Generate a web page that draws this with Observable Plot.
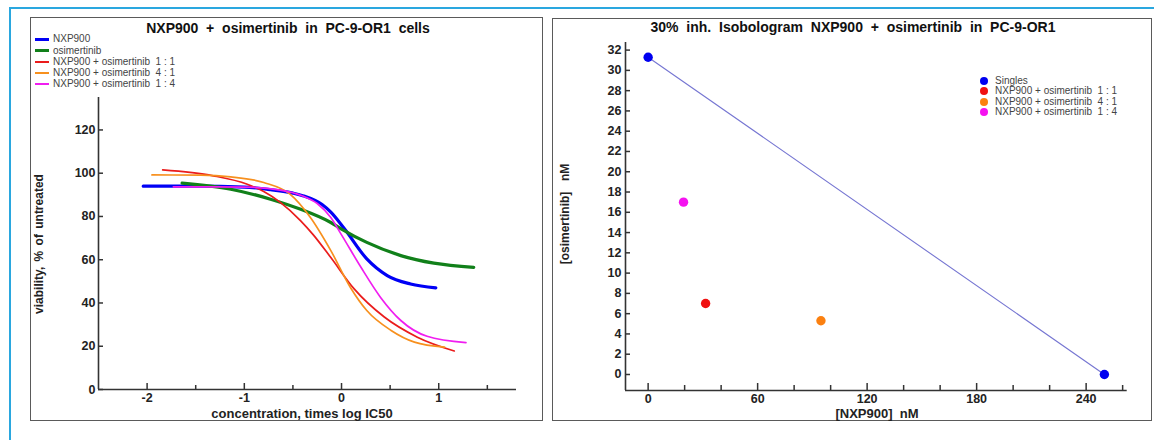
<!DOCTYPE html>
<html><head><meta charset="utf-8">
<script src="https://cdn.jsdelivr.net/npm/d3@7"></script>
<script src="https://cdn.jsdelivr.net/npm/@observablehq/plot@0.6"></script>
<style>
body{margin:0;background:#fff;}
#root{position:relative;width:1154px;height:440px;overflow:hidden;font-family:"Liberation Sans",Arial,sans-serif;color:#222;}
.abs{position:absolute;}
.frame{position:absolute;box-sizing:border-box;border:1.5px solid #5a5a5a;}
.title{position:absolute;font-weight:bold;font-size:14px;white-space:pre;transform:translate(-50%,-50%);color:#111;}
.alabel{position:absolute;font-weight:bold;font-size:13px;white-space:pre;transform:translate(-50%,-50%);color:#222;}
.vlabel{position:absolute;font-weight:bold;font-size:12px;white-space:pre;transform:translate(-50%,-50%) rotate(-90deg);color:#222;word-spacing:2px;}
.leg{position:absolute;font-size:10px;white-space:pre;color:#444;line-height:10px;}
.sw{position:absolute;}
</style>
</head><body>
<div id="root">
  <div class="abs" style="left:9px;top:7px;width:1145px;height:433px;border-top:2px solid #2aa7df;border-left:2px solid #2aa7df;"></div>
  <div class="frame" style="left:30px;top:17px;width:513px;height:404px;"></div>
  <div class="frame" style="left:552px;top:18px;width:600px;height:403px;"></div>
  <div id="p1" class="abs" style="left:0;top:0;"></div>
  <div id="p2" class="abs" style="left:545px;top:0;"></div>
  <div id="texts"></div>
</div>
<script>
// ---------- data: dose-response curves (x = concentration, times log IC50; y = viability %) ----------
const curveNames = ["NXP900", "osimertinib", "NXP900 + osimertinib  1 : 1", "NXP900 + osimertinib  4 : 1", "NXP900 + osimertinib  1 : 4"];
const nxpX = [-2.04, -1.5, -1.0, -0.73, -0.5, -0.39, -0.2, -0.11, 0.03, 0.26, 0.47, 0.71, 0.97];
const nxpY = [94.0, 94.0, 93.6, 92.4, 90.8, 89.5, 85.5, 82.0, 74.3, 60.4, 52.7, 48.8, 47.0];
const osiX = [-1.64, -1.14, -0.73, -0.42, -0.11, 0.0, 0.26, 0.61, 0.95, 1.36];
const osiY = [95.4, 92.6, 88.0, 83.3, 77.2, 74.2, 68.0, 61.9, 58.4, 56.5];
const c11X = [-1.84, -1.32, -0.97, -0.8, -0.63, -0.42, -0.29, -0.11, 0.13, 0.44, 0.78, 1.16];
const c11Y = [101.5, 98.8, 94.9, 91.5, 86.5, 78.0, 71.5, 61.0, 46.5, 33.5, 24.2, 17.8];
const c41X = [-1.95, -1.45, -1.14, -0.8, -0.53, -0.32, -0.11, 0.09, 0.26, 0.51, 0.75, 1.06];
const c41Y = [99.2, 99.1, 98.3, 95.7, 90.3, 79.5, 64.2, 47.3, 36.5, 27.3, 21.9, 19.6];
const c14X = [-1.73, -1.0, -0.63, -0.4, -0.25, -0.11, 0.0, 0.2, 0.4, 0.61, 0.88, 1.28];
const c14Y = [93.7, 93.6, 92.2, 89.5, 86.0, 79.5, 71.5, 56.5, 42.7, 31.9, 24.6, 21.7];
const curveXs = [nxpX, osiX, c11X, c41X, c14X];
const curveYs = [nxpY, osiY, c11Y, c41Y, c14Y];

const leftXTicks = [-2, -1, 0, 1];
const leftXMinor = [-1.5, -0.5, 0.5, 1.5];
const leftYTicks = [0, 20, 40, 60, 80, 100, 120];
const leftXDomain = [-2.5, 1.8];
const leftYDomain = [0, 135];

// ---------- data: isobologram ----------
const isoSeries = ["Singles", "Singles", "NXP900 + osimertinib  1 : 1", "NXP900 + osimertinib  4 : 1", "NXP900 + osimertinib  1 : 4"];
const isoNXP = [0, 250, 31.5, 94.7, 19.4];          // [NXP900] nM
const isoOsi = [31.3, 0, 7.0, 5.3, 17.0];           // [osimertinib] nM
const isoLegend = ["Singles", "NXP900 + osimertinib  1 : 1", "NXP900 + osimertinib  4 : 1", "NXP900 + osimertinib  1 : 4"];
const rightXTicks = [0, 60, 120, 180, 240];
const rightXMinor = [20, 40, 80, 100, 140, 160, 200, 220, 260];
const rightYTicks = [0, 2, 4, 6, 8, 10, 12, 14, 16, 18, 20, 22, 24, 26, 28, 30, 32];
const rightXDomain = [-12.4, 262.5];
const rightYDomain = [-1.58, 32.75];

// ---------- styles ----------
const curveColors = ["#0000f5", "#11801a", "#ea1c1c", "#f7901e", "#f01ef0"];
const curveWidths = [3.2, 3.2, 1.7, 1.7, 1.7];
const isoColors = ["#0000f0", "#f01010", "#fb8010", "#f512f0"];
const font = "'Liberation Sans', Arial, sans-serif";

// ---------- left chart ----------
const curveRows = curveNames.flatMap((name, i) => curveXs[i].map((x, j) => ({series: name, x, y: curveYs[i][j]})));

const fmt = d => String(d);
const axisStyle = {fontSize: 12.5, fontWeight: "bold", fill: "#222", stroke: "#333", label: null, tickFormat: fmt};
const left = Plot.plot({
  width: 540, height: 420,
  marginLeft: 98, marginRight: 24, marginTop: 97, marginBottom: 31,
  style: {fontFamily: font, background: "transparent", overflow: "visible"},
  x: {domain: leftXDomain},
  y: {domain: leftYDomain},
  marks: [
    Plot.ruleY([leftYDomain[0]], {stroke: "#333", strokeWidth: 1.6}),
    Plot.ruleX([leftXDomain[0]], {stroke: "#333", strokeWidth: 1.6}),
    Plot.axisX(leftXTicks, {...axisStyle, tickSize: -6, tickPadding: 10, strokeWidth: 1.5}),
    Plot.axisX(leftXMinor, {...axisStyle, tickSize: -4, tickPadding: 10, strokeWidth: 1.5, tickFormat: () => ""}),
    Plot.axisY(leftYTicks, {...axisStyle, tickSize: -5, tickPadding: 8, strokeWidth: 1.5}),
    ...curveNames.map((name, i) => Plot.line(curveRows.filter(d => d.series === name), {
      x: "x", y: "y", stroke: curveColors[i], strokeWidth: curveWidths[i], curve: "monotone-x"
    }))
  ]
});
document.getElementById("p1").appendChild(left);

// ---------- right chart ----------
const isoRows = isoSeries.map((s, i) => ({series: s, x: isoNXP[i], y: isoOsi[i]}));
const right = Plot.plot({
  width: 600, height: 420,
  marginLeft: 80, marginRight: 18.3, marginTop: 42, marginBottom: 30,
  style: {fontFamily: font, background: "transparent", overflow: "visible"},
  x: {domain: rightXDomain},
  y: {domain: rightYDomain},
  color: {domain: isoLegend, range: isoColors},
  marks: [
    Plot.ruleY([rightYDomain[0]], {stroke: "#333", strokeWidth: 1.6}),
    Plot.ruleX([rightXDomain[0]], {stroke: "#333", strokeWidth: 1.6}),
    Plot.axisX(rightXTicks, {...axisStyle, tickSize: -7, tickPadding: 11, strokeWidth: 1.5}),
    Plot.axisX(rightXMinor, {...axisStyle, tickSize: -5, tickPadding: 11, strokeWidth: 1.5, tickFormat: () => ""}),
    Plot.axisY(rightYTicks, {...axisStyle, tickSize: -5, tickPadding: 9, strokeWidth: 1.5}),
    Plot.line(isoRows.filter(d => d.series === "Singles"), {x: "x", y: "y", stroke: "#7676d2", strokeWidth: 1.1}),
    Plot.dot(isoRows, {x: "x", y: "y", fill: "series", r: 4.7})
  ]
});
document.getElementById("p2").appendChild(right);

// ---------- text: titles, axis labels, legends ----------
const T = document.getElementById("texts");
function add(cls, txt, x, y, extra) {
  const d = document.createElement("div");
  d.className = cls; d.textContent = txt;
  d.style.left = x + "px"; d.style.top = y + "px";
  if (extra) Object.assign(d.style, extra);
  T.appendChild(d); return d;
}
add("title", "NXP900  +  osimertinib  in  PC-9-OR1  cells", 288, 28);
add("title", "30%  inh.  Isobologram  NXP900  +  osimertinib  in  PC-9-OR1", 853, 27);
add("alabel", "concentration, times log IC50", 302, 413);
add("alabel", "[NXP900]  nM", 877, 413);
add("vlabel", "viability, % of untreated", 39, 244);
add("vlabel", "[osimertinib]  nM", 565, 214);

curveNames.forEach((name, i) => {
  const y = 39.3 + i * 11.2;
  add("sw", "", 35, y - curveWidths[i] / 2, {width: "14px", height: (curveWidths[i] > 2 ? 3 : 2) + "px", background: curveColors[i]});
  add("leg", name, 53, y - 5);
});
isoLegend.forEach((name, i) => {
  const y = 80.5 + i * 10.5;
  add("sw", "", 980, y - 4, {width: "8px", height: "8px", borderRadius: "50%", background: isoColors[i]});
  add("leg", name, 995, y - 5);
});
</script>
</body></html>
